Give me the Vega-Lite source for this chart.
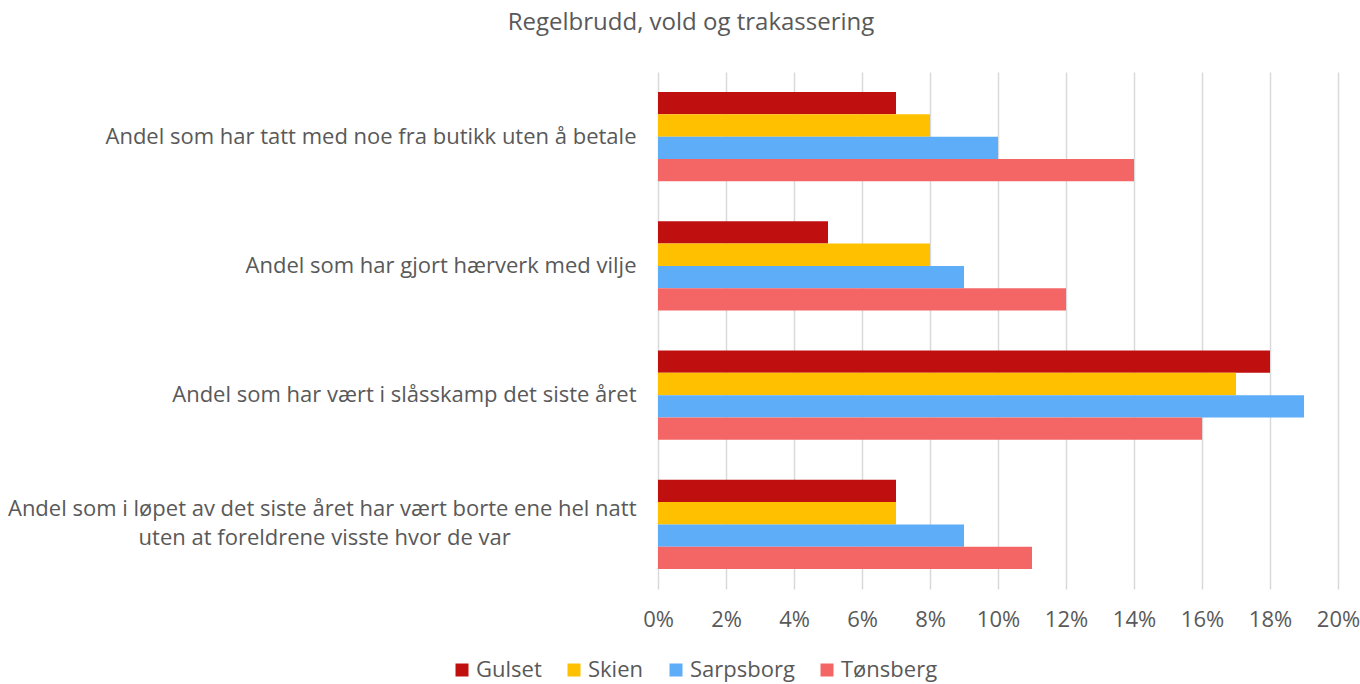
{
  "$schema": "https://vega.github.io/schema/vega-lite/v6.json",
  "width": 680,
  "height": 517,
  "autosize": "none",
  "padding": {"left": 658, "top": 72, "right": 22, "bottom": 95},
  "background": "white",
  "title": {
    "text": "Regelbrudd, vold og trakassering",
    "anchor": "middle",
    "frame": "group",
    "dx": -307,
    "offset": 37,
    "font": "Open Sans",
    "fontSize": 24,
    "fontWeight": "normal",
    "color": "#595959"
  },
  "config": {
    "view": {"stroke": null},
    "font": "Open Sans"
  },
  "data": {
    "values": [
      {"cat": "Andel som har tatt med noe fra butikk uten å betale", "by": "Gulset", "v": 0.07},
      {"cat": "Andel som har tatt med noe fra butikk uten å betale", "by": "Skien", "v": 0.08},
      {"cat": "Andel som har tatt med noe fra butikk uten å betale", "by": "Sarpsborg", "v": 0.10},
      {"cat": "Andel som har tatt med noe fra butikk uten å betale", "by": "Tønsberg", "v": 0.14},
      {"cat": "Andel som har gjort hærverk med vilje", "by": "Gulset", "v": 0.05},
      {"cat": "Andel som har gjort hærverk med vilje", "by": "Skien", "v": 0.08},
      {"cat": "Andel som har gjort hærverk med vilje", "by": "Sarpsborg", "v": 0.09},
      {"cat": "Andel som har gjort hærverk med vilje", "by": "Tønsberg", "v": 0.12},
      {"cat": "Andel som har vært i slåsskamp det siste året", "by": "Gulset", "v": 0.18},
      {"cat": "Andel som har vært i slåsskamp det siste året", "by": "Skien", "v": 0.17},
      {"cat": "Andel som har vært i slåsskamp det siste året", "by": "Sarpsborg", "v": 0.19},
      {"cat": "Andel som har vært i slåsskamp det siste året", "by": "Tønsberg", "v": 0.16},
      {"cat": "Andel som i løpet av det siste året har vært borte ene hel natt|uten at foreldrene visste hvor de var\u00a0\u00a0\u00a0\u00a0\u00a0\u00a0\u00a0\u00a0\u00a0\u00a0\u00a0\u00a0\u00a0\u00a0\u00a0\u00a0\u00a0\u00a0\u00a0\u00a0\u00a0\u00a0\u200b", "by": "Gulset", "v": 0.07},
      {"cat": "Andel som i løpet av det siste året har vært borte ene hel natt|uten at foreldrene visste hvor de var\u00a0\u00a0\u00a0\u00a0\u00a0\u00a0\u00a0\u00a0\u00a0\u00a0\u00a0\u00a0\u00a0\u00a0\u00a0\u00a0\u00a0\u00a0\u00a0\u00a0\u00a0\u00a0\u200b", "by": "Skien", "v": 0.07},
      {"cat": "Andel som i løpet av det siste året har vært borte ene hel natt|uten at foreldrene visste hvor de var\u00a0\u00a0\u00a0\u00a0\u00a0\u00a0\u00a0\u00a0\u00a0\u00a0\u00a0\u00a0\u00a0\u00a0\u00a0\u00a0\u00a0\u00a0\u00a0\u00a0\u00a0\u00a0\u200b", "by": "Sarpsborg", "v": 0.09},
      {"cat": "Andel som i løpet av det siste året har vært borte ene hel natt|uten at foreldrene visste hvor de var\u00a0\u00a0\u00a0\u00a0\u00a0\u00a0\u00a0\u00a0\u00a0\u00a0\u00a0\u00a0\u00a0\u00a0\u00a0\u00a0\u00a0\u00a0\u00a0\u00a0\u00a0\u00a0\u200b", "by": "Tønsberg", "v": 0.11}
    ]
  },
  "mark": {"type": "bar"},
  "encoding": {
    "y": {
      "field": "cat",
      "type": "nominal",
      "sort": null,
      "title": null,
      "scale": {"paddingInner": 0.31, "paddingOuter": 0.155},
      "axis": {
        "domain": false,
        "ticks": false,
        "grid": false,
        "labelPadding": 22,
        "labelLimit": 0,
        "labelFontSize": 22,
        "labelColor": "#595959",
        "labelLineHeight": 29,
        "labelAlign": "right",
        "labelOffset": {"condition": {"test": "indexof(datum.value, '|') >= 0", "value": -15}, "value": 0},
        "labelExpr": "split(datum.label, '|')"
      }
    },
    "yOffset": {
      "field": "by",
      "type": "nominal",
      "sort": ["Gulset", "Skien", "Sarpsborg", "Tønsberg"]
    },
    "x": {
      "field": "v",
      "type": "quantitative",
      "title": null,
      "scale": {"domain": [0, 0.2], "nice": false},
      "axis": {
        "format": ".0%",
        "values": [0, 0.02, 0.04, 0.06, 0.08, 0.1, 0.12, 0.14, 0.16, 0.18, 0.2],
        "domain": false,
        "ticks": false,
        "grid": true,
        "gridColor": "#D9D9D9",
        "gridWidth": 1.5,
        "labelFlush": false,
        "labelOverlap": false,
        "labelPadding": 20,
        "labelFontSize": 22,
        "labelColor": "#595959"
      }
    },
    "color": {
      "field": "by",
      "type": "nominal",
      "sort": ["Gulset", "Skien", "Sarpsborg", "Tønsberg"],
      "scale": {
        "domain": ["Gulset", "Skien", "Sarpsborg", "Tønsberg"],
        "range": ["#C00F0F", "#FFC000", "#5EADF8", "#F46666"]
      },
      "legend": {
        "title": null,
        "orient": "none",
        "direction": "horizontal",
        "legendX": -207,
        "legendY": 587,
        "symbolType": "square",
        "symbolSize": 169,
        "symbolStrokeWidth": 0,
        "labelFontSize": 22,
        "labelColor": "#595959",
        "labelLimit": 0,
        "labelOffset": 3,
        "columnPadding": 21
      }
    }
  }
}
